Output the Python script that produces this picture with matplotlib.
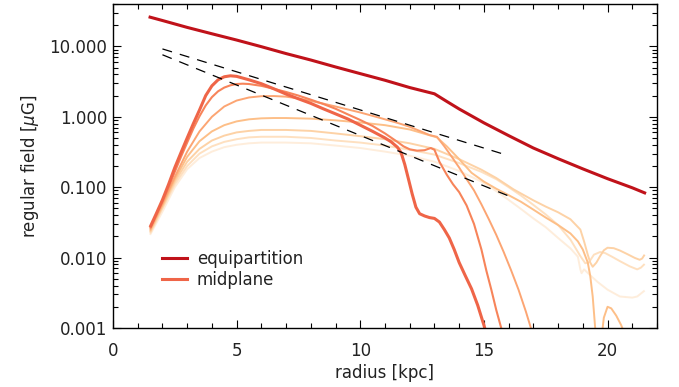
import numpy as np
import matplotlib
matplotlib.use('Agg')
import matplotlib.pyplot as plt
from matplotlib.ticker import MultipleLocator, LogLocator, FuncFormatter, NullFormatter
from matplotlib.lines import Line2D

nan = np.nan

# equipartition field strength
r_eq = [1.5, 2, 3, 4, 5, 6, 7, 8, 9, 10, 11, 12, 13, 13.5, 14, 15, 16, 17, 18, 19, 20, 21, 21.5]
b_eq = [26.0, 23.3, 18.6, 15.1, 12.3, 9.9, 7.9, 6.4, 5.1, 4.1, 3.3, 2.6, 2.12,
        1.65, 1.29, 0.82, 0.54, 0.36, 0.254, 0.182, 0.132, 0.098, 0.083]

# exponential reference slopes
r_ref = [2.0, 16.0]
b_ref_hi = [9.2, 0.28]
b_ref_lo = [7.6, 0.075]

# regular field at the midplane and at increasing heights
r_z0 = [1.5, 1.75, 2.0, 2.25, 2.5, 2.75, 3.0, 3.25, 3.5, 3.75, 4.0, 4.25, 4.5, 4.75, 5.0,
        5.5, 6.0, 6.5, 7.0, 7.5, 8.0, 8.5, 9.0, 9.5, 10.0, 10.5, 11.0, 11.25, 11.5, 11.65,
        11.8, 11.95, 12.1, 12.25, 12.4, 12.6, 12.8, 13.0, 13.2, 13.4, 13.6, 13.8, 14.0,
        14.25, 14.5, 14.75, 15.0, 15.2]
b_z0 = [0.027, 0.042, 0.066, 0.11, 0.19, 0.31, 0.50, 0.80, 1.25, 2.0, 2.75, 3.35, 3.7, 3.82,
        3.75, 3.35, 2.95, 2.5, 2.1, 1.8, 1.55, 1.3, 1.1, 0.93, 0.76, 0.62, 0.5, 0.44, 0.37,
        0.31, 0.21, 0.13, 0.08, 0.052, 0.042, 0.039, 0.037, 0.036, 0.032, 0.025, 0.019,
        0.013, 0.0085, 0.0055, 0.0036, 0.0021, 0.0011, 0.0006]

r_z1 = [1.5, 1.75, 2.0, 2.25, 2.5, 2.75, 3.0, 3.25, 3.5, 3.75, 4.0, 4.25, 4.5, 4.75, 5.0,
        5.25, 5.5, 6.0, 6.5, 7.0, 7.5, 8.0, 8.5, 9.0, 9.5, 10.0, 10.5, 11.0, 11.5, 11.75,
        12.0, 12.3, 12.6, 12.85, 13.0, 13.2, 13.5, 13.75, 14.0, 14.3, 14.6, 14.9, 15.1,
        15.3, 15.5, 15.7, 15.8]
b_z1 = [0.026, 0.04, 0.062, 0.1, 0.165, 0.27, 0.43, 0.68, 1.02, 1.45, 1.9, 2.3, 2.6, 2.8,
        2.92, 2.95, 2.92, 2.75, 2.5, 2.25, 2.0, 1.75, 1.52, 1.3, 1.08, 0.9, 0.74, 0.58,
        0.44, 0.38, 0.345, 0.33, 0.335, 0.36, 0.34, 0.23, 0.15, 0.11, 0.085, 0.055, 0.03,
        0.013, 0.0065, 0.0035, 0.0018, 0.001, 0.0007]

r_z2 = [1.5, 2.0, 2.5, 3.0, 3.5, 4.0, 4.5, 5.0, 5.5, 6.0, 6.5, 7.0, 7.5, 8.0, 8.5,
        9.0, 9.5, 10.0, 10.5, 11.0, 11.5, 12.0, 12.5, 12.8, 13.1, 13.4, 13.7, 14.0, 14.3,
        14.6, 14.9, 15.2, 15.5, 15.8, 16.1, 16.4, 16.7, 16.9, 17.0]
b_z2 = [0.025, 0.058, 0.14, 0.32, 0.62, 1.0, 1.4, 1.7, 1.88, 1.96, 1.97, 1.93,
        1.82, 1.68, 1.54, 1.4, 1.27, 1.15, 1.03, 0.92, 0.82, 0.72, 0.61, 0.55, 0.52, 0.38,
        0.27, 0.19, 0.13, 0.09, 0.057, 0.035, 0.021, 0.012, 0.0066, 0.0035, 0.0017, 0.001,
        0.0008]

r_z3 = [1.5, 2.0, 2.5, 3.0, 3.5, 4.0, 4.5, 5.0, 5.5, 6.0, 6.5, 7.0, 8.0, 9.0, 10.0, 11.0,
        12.0, 12.7, 13.1, 13.5, 14.0, 14.5, 15.0, 15.5, 16.0, 16.5, 17.0, 17.5, 18.0, 18.5,
        18.8, 19.0, 19.2, 19.3, 19.4, 19.5, 19.55, nan, 19.75, 19.85, 20.0, 20.15, 20.35,
        20.55, 20.7]
b_z3 = [0.024, 0.055, 0.13, 0.27, 0.45, 0.62, 0.76, 0.86, 0.92, 0.95, 0.96, 0.96, 0.94,
        0.89, 0.83, 0.76, 0.66, 0.56, 0.51, 0.38, 0.25, 0.16, 0.12, 0.095, 0.077, 0.062,
        0.048, 0.037, 0.029, 0.022, 0.017, 0.013, 0.0085, 0.0055, 0.0028, 0.001, 0.0006,
        nan, 0.0007, 0.0014, 0.002, 0.0019, 0.0015, 0.0011, 0.0008]

r_z4 = [1.5, 2.0, 2.5, 3.0, 3.5, 4.0, 4.5, 5.0, 5.5, 6.0, 6.5, 7.0, 8.0, 9.0, 10.0, 11.0,
        12.0, 13.0, 14.0, 14.9, 15.5, 16.2, 17.0, 17.5, 18.0, 18.5, 18.9, 19.05, 19.2, 19.3,
        19.4, 19.55, 19.7, 19.85, 20.0, 20.25, 20.5, 20.8, 21.1, 21.3, 21.4, 21.5]
b_z4 = [0.023, 0.052, 0.12, 0.23, 0.35, 0.46, 0.54, 0.6, 0.63, 0.65, 0.65, 0.65, 0.63, 0.58,
        0.53, 0.48, 0.42, 0.35, 0.25, 0.177, 0.135, 0.093, 0.065, 0.053, 0.044, 0.035,
        0.025, 0.017, 0.011, 0.0085, 0.0074, 0.0085, 0.0105, 0.0127, 0.0138, 0.0136,
        0.0126, 0.0112, 0.0099, 0.0093, 0.0097, 0.011]

r_z5 = [1.5, 2.0, 2.5, 3.0, 3.5, 4.0, 4.5, 5.0, 5.5, 6.0, 6.5, 7.0, 8.0, 9.0, 10.0, 11.0,
        12.0, 13.0, 14.0, 14.9, 15.5, 16.0, 16.5, 17.0, 17.5, 18.0, 18.5, 18.9, 19.1, 19.25,
        19.45, 19.7, 19.9, 20.2, 20.5, 20.9, 21.2, 21.35, 21.5]
b_z5 = [0.022, 0.05, 0.11, 0.2, 0.3, 0.38, 0.44, 0.48, 0.51, 0.52, 0.52, 0.52, 0.5, 0.46,
        0.43, 0.39, 0.34, 0.29, 0.22, 0.165, 0.13, 0.1, 0.076, 0.056, 0.041, 0.029, 0.018,
        0.0105, 0.0083, 0.0086, 0.011, 0.012, 0.0116, 0.0102, 0.0089, 0.0075, 0.0068,
        0.0072, 0.0081]

r_z6 = [1.5, 2.0, 2.5, 3.0, 3.5, 4.0, 4.5, 5.0, 5.5, 6.0, 6.5, 7.0, 8.0, 9.0, 10.0, 11.0,
        12.0, 13.0, 14.0, 14.9, 15.5, 16.0, 16.5, 17.0, 17.5, 18.0, 18.5, 18.8, 18.9, 18.95,
        19.05, 19.3, 19.6, 20.0, 20.5, 21.0, 21.2, 21.5]
b_z6 = [0.021, 0.045, 0.1, 0.18, 0.26, 0.32, 0.37, 0.4, 0.42, 0.43, 0.43, 0.43, 0.42,
        0.39, 0.36, 0.32, 0.28, 0.23, 0.17, 0.12, 0.088, 0.066, 0.049, 0.036, 0.027, 0.019,
        0.0135, 0.0103, 0.0068, 0.006, 0.0068, 0.0056, 0.0045, 0.0035, 0.0028, 0.0027,
        0.0028, 0.0034]

heights = [(r_z6, b_z6, '#feeddb', 1.4),
           (r_z5, b_z5, '#fee0c0', 1.4),
           (r_z4, b_z4, '#fdd2a6', 1.4),
           (r_z3, b_z3, '#fdbf88', 1.4),
           (r_z2, b_z2, '#fca573', 1.4),
           (r_z1, b_z1, '#f7845a', 1.5),
           (r_z0, b_z0, '#ef6548', 2.2)]

eq_color = '#c0121a'
mid_color = '#ef6548'
txt = '#222222'

plt.rcParams['font.family'] = 'DejaVu Sans'
plt.rcParams['font.size'] = 12

fig = plt.figure(figsize=(6.79, 3.87), dpi=100)
ax = fig.add_axes([0.1664, 0.1525, 0.8012, 0.8372])

for r, b, c, lw in heights:
    ax.plot(r, b, color=c, lw=lw, solid_capstyle='butt')

ax.plot(r_ref, b_ref_hi, color='black', lw=0.9, dashes=(8, 6.5))
ax.plot(r_ref, b_ref_lo, color='black', lw=0.9, dashes=(8, 6.5))
ax.plot(r_eq, b_eq, color=eq_color, lw=2.2)

ax.set_yscale('log')
ax.set_xlim(0, 22)
ax.set_ylim(0.001, 40)

ax.xaxis.set_major_locator(MultipleLocator(5))
ax.xaxis.set_minor_locator(MultipleLocator(1))
ax.yaxis.set_major_locator(LogLocator(base=10, numticks=10))
ax.yaxis.set_minor_locator(LogLocator(base=10, subs=np.arange(2, 10), numticks=20))
ax.yaxis.set_major_formatter(FuncFormatter(lambda v, p: f'{v:.3f}'))
ax.yaxis.set_minor_formatter(NullFormatter())

ax.tick_params(which='both', direction='in', top=True, right=True, width=0.8, colors='black',
               labelcolor=txt, labelsize=12)
ax.tick_params(which='major', length=6)
ax.tick_params(which='minor', length=3.5)
ax.tick_params(axis='x', which='major', pad=10)
ax.tick_params(axis='y', which='major', pad=4)
for s in ax.spines.values():
    s.set_linewidth(1.0)

ax.set_xlabel('radius [kpc]', color=txt, labelpad=3)
ax.set_ylabel(r'regular field [$\mu$G]', color=txt, labelpad=6)

handles = [Line2D([], [], color=eq_color, lw=2.2),
           Line2D([], [], color=mid_color, lw=2.2)]
ax.legend(handles, ['equipartition', 'midplane'], loc='lower left',
          bbox_to_anchor=(0.09, 0.12), frameon=False, handlelength=1.5,
          handletextpad=0.6, labelspacing=0.2, borderpad=0, borderaxespad=0,
          labelcolor=txt)

fig.savefig('out.png', dpi=100)
